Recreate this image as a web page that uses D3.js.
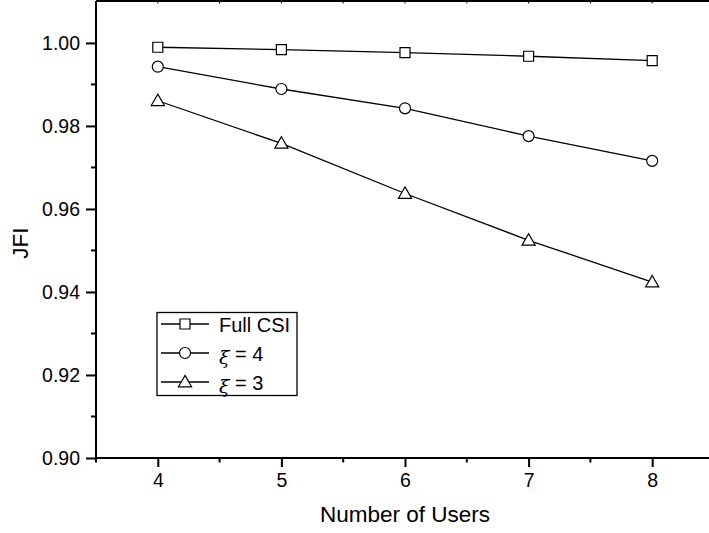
<!DOCTYPE html>
<html>
<head>
<meta charset="utf-8">
<script src="https://cdn.jsdelivr.net/npm/d3@7"></script>
<style>
  body { margin: 0; background: #fff; }
  svg { display: block; font-family: Arial, "Liberation Sans", sans-serif; }
</style>
</head>
<body>
<div id="chart"></div>
<script>
// chart data
const users = [4, 5, 6, 7, 8];
const fullCsi = [0.99896, 0.99838, 0.99766, 0.99679, 0.99573];
const xi4 = [0.99428, 0.98890, 0.98424, 0.97755, 0.97159];
const xi3 = [0.98607, 0.97579, 0.96372, 0.95245, 0.94239];
const yTicks = [0.90, 0.92, 0.94, 0.96, 0.98, 1.00];
const xTicks = [4, 5, 6, 7, 8];

// dimensions
const width = 709;
const height = 533;
const margin = {top: 1, right: -5, bottom: 75, left: 96};
const plotWidth = width - margin.left - margin.right;
const plotHeight = height - margin.top - margin.bottom;

const svg = d3.select('#chart')
    .append('svg')
    .attr('width', width)
    .attr('height', height);

const g = svg.append('g')
    .attr('transform', 'translate(' + margin.left + ',' + margin.top + ')');

const x = d3.scaleLinear().domain([3.5, 8.5]).range([0, plotWidth]);
const y = d3.scaleLinear().domain([0.90, 1.0101]).range([plotHeight, 0]);

// minor ticks
const xMinor = d3.range(3.5, 8.6, 0.5).filter(v => !xTicks.includes(v));
const yMinor = d3.range(0.91, 1.0, 0.02);

g.selectAll('.xminor').data(xMinor).enter().append('line')
    .attr('x1', d => x(d)).attr('x2', d => x(d))
    .attr('y1', plotHeight).attr('y2', plotHeight + 4.5)
    .attr('stroke', '#000').attr('stroke-width', 2);
g.selectAll('.yminor').data(yMinor).enter().append('line')
    .attr('x1', -5).attr('x2', 0)
    .attr('y1', d => y(d)).attr('y2', d => y(d))
    .attr('stroke', '#000').attr('stroke-width', 2);

// top frame with small ticks
g.append('line')
    .attr('x1', 0).attr('x2', plotWidth)
    .attr('y1', 0).attr('y2', 0)
    .attr('stroke', '#000').attr('stroke-width', 2);
g.selectAll('.xtop').data(xTicks.concat(xMinor)).enter().append('line')
    .attr('x1', d => x(d)).attr('x2', d => x(d))
    .attr('y1', 0).attr('y2', 2.5)
    .attr('stroke', '#000').attr('stroke-width', 1);

// bottom axis
const xAxis = g.append('g')
    .attr('transform', 'translate(0,' + plotHeight + ')')
    .call(d3.axisBottom(x).tickValues(xTicks).tickSize(9).tickPadding(6).tickFormat(d3.format('d')));
// left axis
const yAxis = g.append('g')
    .call(d3.axisLeft(y).tickValues(yTicks).tickSize(10).tickPadding(6).tickFormat(d3.format('.2f')));

[xAxis, yAxis].forEach(a => {
    a.select('.domain').remove();
    a.selectAll('.tick line').attr('stroke-width', 2);
    a.selectAll('.tick text').attr('font-size', 19.5).attr('font-family', 'Arial, "Liberation Sans", sans-serif').attr('fill', '#000');
});
g.append('line').attr('x1', 0).attr('x2', plotWidth).attr('y1', plotHeight).attr('y2', plotHeight)
    .attr('stroke', '#000').attr('stroke-width', 2);
g.append('line').attr('x1', 0).attr('x2', 0).attr('y1', 0).attr('y2', plotHeight + 1)
    .attr('stroke', '#000').attr('stroke-width', 2);

// axis titles
svg.append('text')
    .attr('x', margin.left + x(6))
    .attr('y', 522)
    .attr('text-anchor', 'middle')
    .attr('font-size', 22.5)
    .text('Number of Users');
svg.append('text')
    .attr('transform', 'translate(28,243) rotate(-90)')
    .attr('text-anchor', 'middle')
    .attr('font-size', 22.5)
    .text('JFI');

// markers
const symbols = {
    square: d3.symbol().type(d3.symbolSquare).size(100),
    circle: d3.symbol().type(d3.symbolCircle).size(95),
    triangle: d3.symbol().type(d3.symbolTriangle).size(75)
};

const series = [
    {name: 'Full CSI', values: fullCsi, shape: 'square'},
    {name: '4', values: xi4, shape: 'circle'},
    {name: '3', values: xi3, shape: 'triangle'}
];

const line = d3.line()
    .x((d, i) => x(users[i]))
    .y(d => y(d));

series.forEach(s => {
    g.append('path')
        .datum(s.values)
        .attr('fill', 'none')
        .attr('stroke', '#000')
        .attr('stroke-width', 1.3)
        .attr('d', line);
    g.selectAll('.m-' + s.shape).data(s.values).enter().append('path')
        .attr('transform', (d, i) => 'translate(' + x(users[i]) + ',' + (y(d) + (s.shape === 'triangle' ? 1 : 0)) + ')')
        .attr('d', symbols[s.shape])
        .attr('fill', '#fff')
        .attr('stroke', '#000')
        .attr('stroke-width', 1.2);
});

// legend
const legend = svg.append('g');
legend.append('rect')
    .attr('x', 157).attr('y', 312.5)
    .attr('width', 140).attr('height', 83)
    .attr('fill', '#fff')
    .attr('stroke', '#000')
    .attr('stroke-width', 1.3);

const rowY = [324, 353, 382];
series.forEach((s, i) => {
    legend.append('line')
        .attr('x1', 161).attr('x2', 209)
        .attr('y1', rowY[i]).attr('y2', rowY[i])
        .attr('stroke', '#000').attr('stroke-width', 1.3);
    legend.append('path')
        .attr('transform', 'translate(185,' + (rowY[i] + (s.shape === 'triangle' ? 1 : 0)) + ')')
        .attr('d', symbols[s.shape])
        .attr('fill', '#fff')
        .attr('stroke', '#000')
        .attr('stroke-width', 1.2);
    const t = legend.append('text')
        .attr('x', 219)
        .attr('y', rowY[i] + 8)
        .attr('font-size', 20);
    if (s.shape === 'square') {
        t.text(s.name);
    } else {
        t.append('tspan').attr('font-style', 'italic').attr('font-family', '"DejaVu Serif", serif').attr('font-size', 19).attr('dy', 3).text('ξ');
        t.append('tspan').attr('dy', -3).text(' = ' + s.name);
    }
});
</script>
</body>
</html>
